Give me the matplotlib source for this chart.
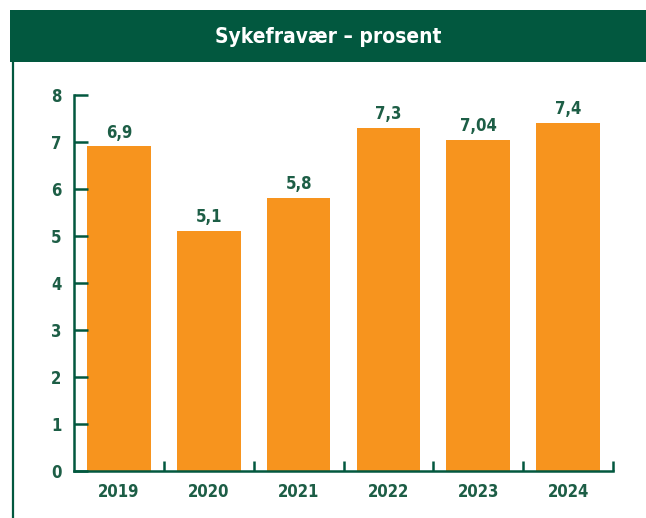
import matplotlib
matplotlib.use("Agg")
import matplotlib.pyplot as plt
from matplotlib.patches import Rectangle
from matplotlib.lines import Line2D

years = ["2019", "2020", "2021", "2022", "2023", "2024"]
values = [6.9, 5.1, 5.8, 7.3, 7.04, 7.4]
value_labels = ["6,9", "5,1", "5,8", "7,3", "7,04", "7,4"]
yticks = [0, 1, 2, 3, 4, 5, 6, 7, 8]
title = "Sykefravær – prosent"

GREEN = "#02583F"
TEXT = "#1D5E46"
ORANGE = "#F7941E"

W, H = 646, 518
fig = plt.figure(figsize=(W / 100, H / 100), dpi=100)
fig.patch.set_facecolor("white")

font = dict(family="DejaVu Sans", stretch="condensed", weight="bold")

# header band
fig.add_artist(Rectangle((10 / W, 1 - 62 / H), 1 - 10 / W, 52 / H,
                         transform=fig.transFigure, facecolor=GREEN,
                         edgecolor="none"))
fig.text((10 + W) / 2 / W, 1 - 37 / H, title, color="white", fontsize=15,
         ha="center", va="center", **font)
# left border line
fig.add_artist(Line2D([12.5 / W, 12.5 / W], [0, 1 - 62 / H],
                      transform=fig.transFigure, color=GREEN, lw=1.6))

ax = fig.add_axes([74 / W, 1 - 470.7 / H, (613 - 74) / W, (470.7 - 94.7) / H])
x = list(range(len(years)))
ax.bar(x, values, width=0.71, color=ORANGE)
ax.set_xlim(-0.5, len(years) - 0.5)
ax.set_ylim(0, 8)
ax.set_yticks(yticks)
ax.set_yticklabels([str(t) for t in yticks])

ax.set_xticks([i + 0.5 for i in x])
ax.set_xticklabels([])
ax.set_xticks(x, minor=True)
ax.set_xticklabels(years, minor=True)

for s in ["top", "right"]:
    ax.spines[s].set_visible(False)
for s in ["left", "bottom"]:
    ax.spines[s].set_color(GREEN)
    ax.spines[s].set_linewidth(1.8)

ax.tick_params(axis="y", direction="in", length=10, width=1.8, color=GREEN,
               pad=9, labelcolor=TEXT, labelsize=12)
ax.tick_params(axis="x", which="major", direction="in", length=7, width=1.8,
               color=GREEN)
ax.tick_params(axis="x", which="minor", length=0, pad=9, labelcolor=TEXT,
               labelsize=12)
for lab in ax.get_yticklabels() + ax.get_xticklabels(minor=True):
    lab.set_fontweight("bold")
    lab.set_fontstretch("condensed")

for xi, v, lbl in zip(x, values, value_labels):
    ax.annotate(lbl, (xi, v), xytext=(0, 3.5), textcoords="offset points",
                ha="center", va="bottom", color=TEXT, fontsize=12, **font)

fig.savefig("out.png", dpi=100)
